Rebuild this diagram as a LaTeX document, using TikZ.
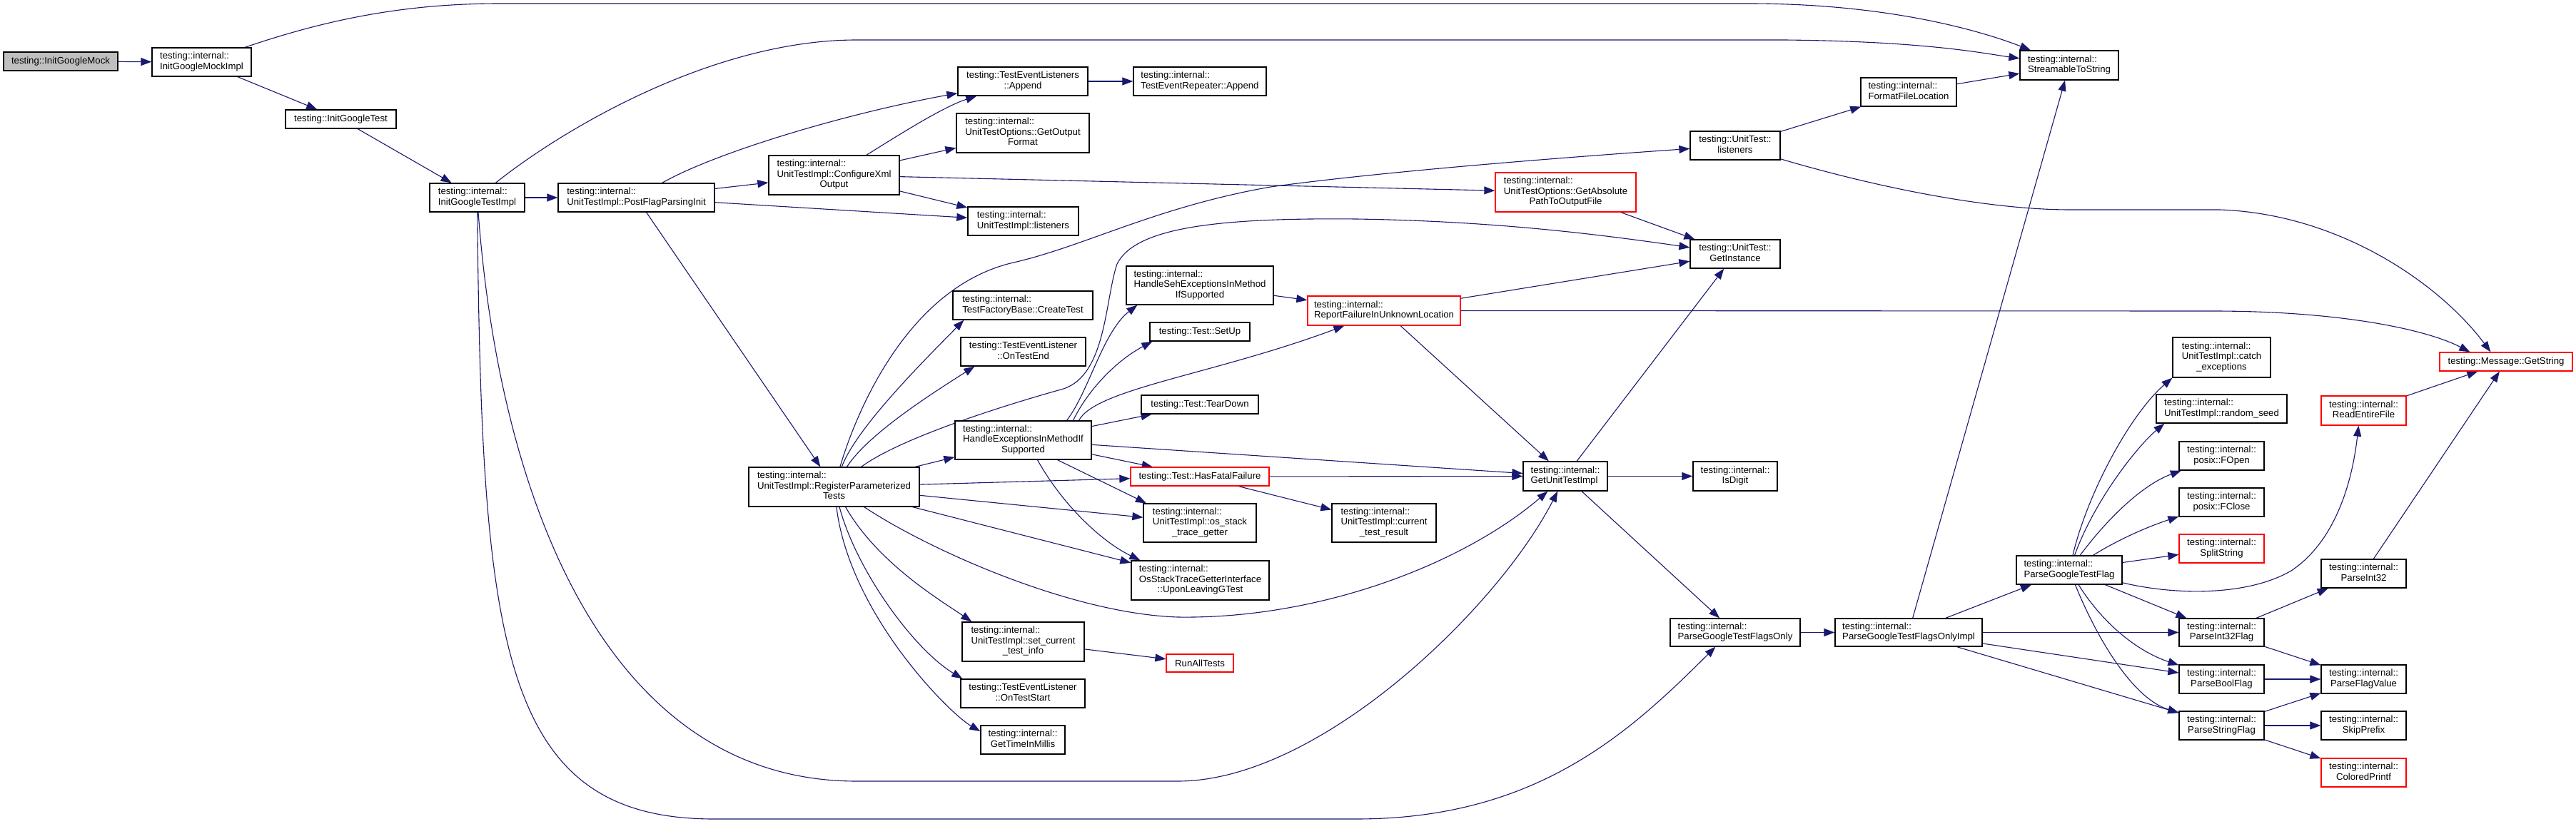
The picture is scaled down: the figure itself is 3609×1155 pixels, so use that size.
\documentclass[tikz,border=0pt]{standalone}
\usepackage{fontspec}
\setmainfont{Liberation Sans}
\usetikzlibrary{arrows.meta}
\definecolor{navyc}{HTML}{191970}
\definecolor{rootgray}{HTML}{BFBFBF}
\definecolor{redc}{HTML}{FF0000}
\pgfdeclarelayer{bg}
\pgfsetlayers{bg,main}
\newcommand{\TwoL}[2]{\begin{tabular}{@{}l@{}}#1\\#2\end{tabular}}
\newcommand{\TwoC}[2]{\begin{tabular}{@{}c@{}}#1\\#2\end{tabular}}
\newcommand{\ThreeL}[3]{\begin{tabular}{@{}l@{}}#1\\#2\\\multicolumn{1}{@{}c@{}}{#3}\end{tabular}}
\begin{document}
\begin{tikzpicture}[x=1pt,y=-1pt,
  fnbox/.style={draw=black, line width=1.3pt, fill=white, inner sep=0pt, rectangle,
    font=\fontsize{13.2pt}{14.4pt}\selectfont},
  redbox/.style={fnbox, draw=redc},
  ca/.style={draw=navyc, line width=1.1pt, -{Triangle[length=15pt,width=11pt]}, fill=none}]
\useasboundingbox (0,0) rectangle (3609,1155);

\node[fnbox, fill=rootgray, minimum width=160pt, minimum height=26pt] (gmock) at (85,86) {testing::InitGoogleMock};
\node[fnbox, minimum width=139pt, minimum height=40pt] (gmockimpl) at (282.5,87) {\TwoL{testing::internal::}{InitGoogleMockImpl}};
\node[fnbox, minimum width=155pt, minimum height=26pt] (gtest) at (477.5,167) {testing::InitGoogleTest};
\node[fnbox, minimum width=133pt, minimum height=40pt] (gtestimpl) at (668.5,277) {\TwoL{testing::internal::}{InitGoogleTestImpl}};
\node[fnbox, minimum width=219pt, minimum height=40pt] (postflag) at (891.5,277) {\TwoL{testing::internal::}{UnitTestImpl::PostFlagParsingInit}};
\node[fnbox, minimum width=183pt, minimum height=55pt] (configxml) at (1168.5,245.5) {\ThreeL{testing::internal::}{UnitTestImpl::ConfigureXml}{Output}};
\node[fnbox, minimum width=182pt, minimum height=40pt] (tela) at (1433,114) {\TwoC{testing::TestEventListeners}{::Append}};
\node[fnbox, minimum width=186pt, minimum height=40pt] (tera) at (1681,114) {\TwoL{testing::internal::}{TestEventRepeater::Append}};
\node[fnbox, minimum width=186pt, minimum height=55pt] (getoutfmt) at (1433,186.5) {\ThreeL{testing::internal::}{UnitTestOptions::GetOutput}{Format}};
\node[fnbox, minimum width=155pt, minimum height=40pt] (implisteners) at (1433.5,310) {\TwoL{testing::internal::}{UnitTestImpl::listeners}};
\node[fnbox, minimum width=196pt, minimum height=40pt] (createtest) at (1433,428) {\TwoL{testing::internal::}{TestFactoryBase::CreateTest}};
\node[fnbox, minimum width=175pt, minimum height=40pt] (ontestend) at (1433.5,493) {\TwoC{testing::TestEventListener}{::OnTestEnd}};
\node[fnbox, minimum width=206pt, minimum height=54pt] (heseh) at (1681,400) {\ThreeL{testing::internal::}{HandleSehExceptionsInMethod}{IfSupported}};
\node[redbox, minimum width=214pt, minimum height=41pt] (reportfail) at (1939,435.5) {\TwoL{testing::internal::}{ReportFailureInUnknownLocation}};
\node[fnbox, minimum width=140pt, minimum height=26pt] (setup) at (1681,465) {testing::Test::SetUp};
\node[fnbox, minimum width=164pt, minimum height=26pt] (teardown) at (1681,567) {testing::Test::TearDown};
\node[fnbox, minimum width=126pt, minimum height=40pt] (ulisteners) at (2431,204) {\TwoC{testing::UnitTest::}{listeners}};
\node[redbox, minimum width=197pt, minimum height=55pt] (getabs) at (2193.5,269.5) {\ThreeL{testing::internal::}{UnitTestOptions::GetAbsolute}{PathToOutputFile}};
\node[fnbox, minimum width=126pt, minimum height=40pt] (getinst) at (2431,356) {\TwoC{testing::UnitTest::}{GetInstance}};
\node[fnbox, minimum width=138pt, minimum height=41pt] (s2s) at (2899,91.5) {\TwoL{testing::internal::}{StreamableToString}};
\node[fnbox, minimum width=134pt, minimum height=40pt] (ffl) at (2674,129) {\TwoL{testing::internal::}{FormatFileLocation}};
\node[fnbox, minimum width=137pt, minimum height=56pt] (catchex) at (3112.5,501) {\ThreeL{testing::internal::}{UnitTestImpl::catch}{\_exceptions}};
\node[fnbox, minimum width=183pt, minimum height=40pt] (randseed) at (3112.5,573) {\TwoL{testing::internal::}{UnitTestImpl::random\_seed}};
\node[redbox, minimum width=186pt, minimum height=26pt] (getstring) at (3511,507) {testing::Message::GetString};
\node[redbox, minimum width=119pt, minimum height=41pt] (readfile) at (3311.5,575.5) {\TwoC{testing::internal::}{ReadEntireFile}};
\node[redbox, minimum width=194pt, minimum height=26pt] (hasfatal) at (1681,668) {testing::Test::HasFatalFailure};
\node[fnbox, minimum width=191pt, minimum height=54pt] (heimis) at (1433.5,617) {\ThreeL{testing::internal::}{HandleExceptionsInMethodIf}{Supported}};
\node[fnbox, minimum width=158pt, minimum height=54pt] (osstack) at (1681,733) {\ThreeL{testing::internal::}{UnitTestImpl::os\_stack}{\_trace\_getter}};
\node[fnbox, minimum width=193pt, minimum height=55pt] (upon) at (1681.5,813.5) {\ThreeL{testing::internal::}{OsStackTraceGetterInterface}{::UponLeavingGTest}};
\node[fnbox, minimum width=146pt, minimum height=54pt] (curres) at (1939,733) {\ThreeL{testing::internal::}{UnitTestImpl::current}{\_test\_result}};
\node[fnbox, minimum width=171pt, minimum height=55pt] (setcur) at (1433.5,899.5) {\ThreeL{testing::internal::}{UnitTestImpl::set\_current}{\_test\_info}};
\node[redbox, minimum width=94pt, minimum height=25pt] (runall) at (1681,929.5) {RunAllTests};
\node[fnbox, minimum width=174pt, minimum height=40pt] (ontestart) at (1433,972) {\TwoC{testing::TestEventListener}{::OnTestStart}};
\node[fnbox, minimum width=118pt, minimum height=40pt] (gettime) at (1433,1037) {\TwoC{testing::internal::}{GetTimeInMillis}};
\node[fnbox, minimum width=239pt, minimum height=55pt] (rpt) at (1168.5,682.5) {\ThreeL{testing::internal::}{UnitTestImpl::RegisterParameterized}{Tests}};
\node[fnbox, minimum width=118pt, minimum height=41pt] (getuti) at (2193,667.5) {\TwoL{testing::internal::}{GetUnitTestImpl}};
\node[fnbox, minimum width=118pt, minimum height=41pt] (isdigit) at (2431,667.5) {\TwoC{testing::internal::}{IsDigit}};
\node[fnbox, minimum width=182pt, minimum height=39pt] (pgtfo) at (2431,886.5) {\TwoL{testing::internal::}{ParseGoogleTestFlagsOnly}};
\node[fnbox, minimum width=206pt, minimum height=39pt] (pgtfoi) at (2674,886.5) {\TwoL{testing::internal::}{ParseGoogleTestFlagsOnlyImpl}};
\node[fnbox, minimum width=148pt, minimum height=40pt] (pgtf) at (2899,799) {\TwoL{testing::internal::}{ParseGoogleTestFlag}};
\node[fnbox, minimum width=119pt, minimum height=40pt] (fopen) at (3112.5,639) {\TwoC{testing::internal::}{posix::FOpen}};
\node[fnbox, minimum width=119pt, minimum height=40pt] (fclose) at (3112.5,704) {\TwoC{testing::internal::}{posix::FClose}};
\node[redbox, minimum width=119pt, minimum height=40pt] (split) at (3112.5,769) {\TwoC{testing::internal::}{SplitString}};
\node[fnbox, minimum width=119pt, minimum height=39pt] (pi32f) at (3112.5,886.5) {\TwoC{testing::internal::}{ParseInt32Flag}};
\node[fnbox, minimum width=119pt, minimum height=40pt] (pbool) at (3112.5,952) {\TwoC{testing::internal::}{ParseBoolFlag}};
\node[fnbox, minimum width=119pt, minimum height=40pt] (pstr) at (3112.5,1017) {\TwoC{testing::internal::}{ParseStringFlag}};
\node[fnbox, minimum width=119pt, minimum height=40pt] (pi32) at (3311.5,804) {\TwoC{testing::internal::}{ParseInt32}};
\node[fnbox, minimum width=119pt, minimum height=40pt] (pfv) at (3311.5,952) {\TwoC{testing::internal::}{ParseFlagValue}};
\node[fnbox, minimum width=119pt, minimum height=40pt] (skip) at (3311.5,1017) {\TwoC{testing::internal::}{SkipPrefix}};
\node[redbox, minimum width=119pt, minimum height=40pt] (colored) at (3311.5,1083) {\TwoC{testing::internal::}{ColoredPrintf}};

\begin{pgfonlayer}{bg}
\fill[white] (0,0) rectangle (3609,1155);
\draw[ca] (gmock) -- (gmockimpl);
\draw[ca] (gmockimpl) -- (gtest);
\draw[ca] (gmockimpl) .. controls (450,30) and (560,5) .. (700,5) -- (2450,5) .. controls (2650,5) and (2780,45) .. (s2s);
\draw[ca] (gtest) -- (gtestimpl);
\draw[ca] (gtestimpl) -- (postflag);
\draw[ca] (gtestimpl) .. controls (790,180) and (1000,56) .. (1200,56) -- (2500,56) .. controls (2700,58) and (2780,75) .. (s2s);
\draw[ca] (gtestimpl) .. controls (700,700) and (850,1095) .. (1200,1095) -- (1650,1095) .. controls (1850,1095) and (2100,850) .. (getuti);
\draw[ca] (gtestimpl) .. controls (675,900) and (700,1148) .. (1000,1148) -- (1900,1148) .. controls (2150,1148) and (2280,1030) .. ([xshift=64pt]pgtfo.south west);
\draw[ca] (postflag) .. controls (1000,215) and (1180,160) .. (tela);
\draw[ca] (postflag) -- (configxml);
\draw[ca] (postflag) -- (implisteners);
\draw[ca] (postflag) -- (rpt);
\draw[ca] (configxml) .. controls (1250,195) and (1320,150) .. (tela);
\draw[ca] (configxml) -- (getoutfmt);
\draw[ca] (configxml) -- (getabs);
\draw[ca] (configxml) -- (implisteners);
\draw[ca] (tela) -- (tera);
\draw[ca] (rpt) .. controls (1205,560) and (1280,400) .. (1420,368) .. controls (1520,345) and (1620,290) .. (1780,262) .. controls (1940,240) and (2200,220) .. (ulisteners);
\draw[ca] (rpt) .. controls (1200,600) and (1290,510) .. ([xshift=16pt]createtest.south west);
\draw[ca] (rpt) .. controls (1215,610) and (1300,555) .. ([xshift=20pt]ontestend.south west);
\draw[ca] (rpt) .. controls (1260,615) and (1400,570) .. (1490,545) .. controls (1550,525) and (1548,420) .. (1565,370) .. controls (1590,320) and (1700,305) .. (1900,307) .. controls (2100,310) and (2250,330) .. (getinst);
\draw[ca] (rpt) -- (heimis);
\draw[ca] (rpt) -- (hasfatal);
\draw[ca] (rpt) -- (osstack);
\draw[ca] (rpt) -- (upon);
\draw[ca] (rpt) .. controls (1300,770) and (1500,860) .. (1650,865) .. controls (1850,868) and (2050,790) .. (getuti);
\draw[ca] (rpt) .. controls (1230,790) and (1320,843) .. ([xshift=14pt]setcur.north west);
\draw[ca] (rpt) .. controls (1200,800) and (1280,910) .. ([xshift=3pt]ontestart.north west);
\draw[ca] (rpt) .. controls (1190,860) and (1330,1000) .. ([yshift=12pt]gettime.west);
\draw[ca] ([xshift=61pt]heimis.north) .. controls (1525,550) and (1545,465) .. ([xshift=16pt]heseh.south west);
\draw[ca] ([xshift=70pt]heimis.north) .. controls (1525,545) and (1565,505) .. ([xshift=4pt]setup.south west);
\draw[ca] ([xshift=78pt]heimis.north) .. controls (1535,545) and (1700,525) .. ([xshift=52pt]reportfail.south west);
\draw[ca] (heimis) -- (teardown);
\draw[ca] (heimis) -- (getuti);
\draw[ca] (heimis) -- (hasfatal);
\draw[ca] ([xshift=48pt]heimis.south) -- ([xshift=-75pt]osstack.north);
\draw[ca] ([xshift=20pt]heimis.south) .. controls (1490,710) and (1545,760) .. ([xshift=13pt]upon.north west);
\draw[ca] (heseh) -- (reportfail);
\draw[ca] (reportfail) -- (getinst);
\draw[ca] (reportfail) -- (getuti);
\draw[ca] (reportfail) -- (3100,436) .. controls (3280,436) and (3400,462) .. ([xshift=43pt]getstring.north west);
\draw[ca] (getabs) -- (getinst);
\draw[ca] (ulisteners) -- (ffl);
\draw[ca] (ulisteners) .. controls (2620,260) and (2780,294) .. (2900,294) -- (3110,294) .. controls (3280,300) and (3420,400) .. ([xshift=72pt]getstring.north west);
\draw[ca] (ffl) -- (s2s);
\draw[ca] (getuti) -- (getinst);
\draw[ca] (getuti) -- (isdigit);
\draw[ca] (getuti) -- (pgtfo);
\draw[ca] (hasfatal) -- (getuti);
\draw[ca] (hasfatal) -- (curres);
\draw[ca] (setcur) -- (runall);
\draw[ca] (pgtfo) -- (pgtfoi);
\draw[ca] (pgtfoi) -- (s2s);
\draw[ca] (pgtfoi) -- (pgtf);
\draw[ca] (pgtfoi) -- (pi32f);
\draw[ca] (pgtfoi) -- (pbool);
\draw[ca] (pgtfoi) -- (pstr);
\draw[ca] (pgtf) .. controls (2925,690) and (2985,580) .. (catchex.south west);
\draw[ca] (pgtf) .. controls (2935,700) and (2995,625) .. ([xshift=12pt]randseed.south west);
\draw[ca] (pgtf) .. controls (2950,730) and (3000,680) .. (fopen);
\draw[ca] (pgtf) .. controls (2970,755) and (3010,738) .. (fclose);
\draw[ca] (pgtf) -- (split);
\draw[ca] (pgtf) .. controls (3050,835) and (3150,835) .. (3210,800) .. controls (3270,760) and (3295,680) .. ([xshift=53pt]readfile.south west);
\draw[ca] (pgtf) -- (pi32f);
\draw[ca] (pgtf) .. controls (2950,880) and (3000,915) .. (pbool);
\draw[ca] (pgtf) .. controls (2940,900) and (2990,980) .. (pstr);
\draw[ca] (pi32f) -- (pi32);
\draw[ca] (pi32f) -- (pfv);
\draw[ca] (pbool) -- (pfv);
\draw[ca] (pstr) -- (pfv);
\draw[ca] (pstr) -- (skip);
\draw[ca] (pstr) -- (colored);
\draw[ca] (pi32) -- (getstring);
\draw[ca] (readfile) -- (getstring);
\end{pgfonlayer}
\end{tikzpicture}
\end{document}
